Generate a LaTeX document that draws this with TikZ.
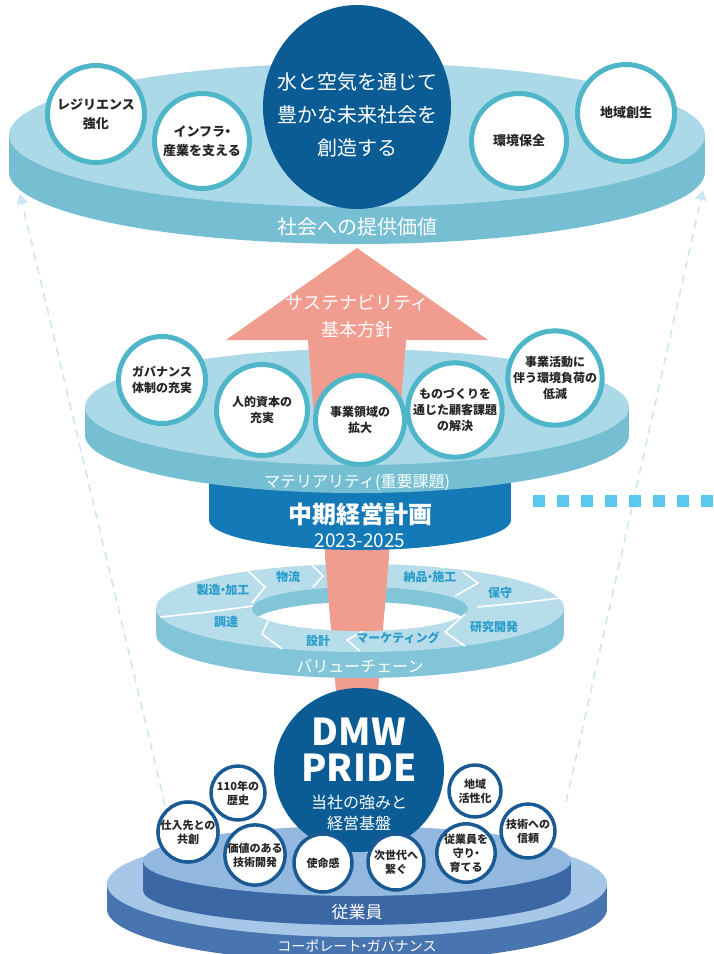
\documentclass[tikz,border=0pt]{standalone}
\usepackage{fontspec}
\setmainfont{Noto Sans CJK JP}
\usepackage{tikz}
\usetikzlibrary{arrows.meta,positioning,shapes.geometric}

\definecolor{skytop}{HTML}{ABD9E7}
\definecolor{skyside}{HTML}{76BFD3}
\definecolor{tealring}{HTML}{4FB6CA}
\definecolor{deepblue}{HTML}{0B5C94}
\definecolor{planblue}{HTML}{1479B7}
\definecolor{salmon}{HTML}{F09C8E}
\definecolor{vctop}{HTML}{B7DDEA}
\definecolor{vcside}{HTML}{82C5D8}
\definecolor{vctext}{HTML}{2C9DCB}
\definecolor{dashblue}{HTML}{CCE6F3}
\definecolor{dotblue}{HTML}{5BC8F0}
\definecolor{navyring}{HTML}{1A5A94}
\definecolor{empltop}{HTML}{92B8DF}
\definecolor{emplside}{HTML}{3B67A4}
\definecolor{govtop}{HTML}{A6C7E7}
\definecolor{govside}{HTML}{4874B0}

\newcommand{\ndot}{\kern-.3em・\kern-.3em}

\tikzset{
  valuecirc/.style={circle,draw=tealring,line width=5pt,fill=white,
                    align=center,text=black!85,inner sep=0pt},
  topfont/.style={font=\bfseries\fontsize{13}{19}\selectfont},
  midfont/.style={font=\bfseries\fontsize{12}{16}\selectfont},
  basecirc/.style={circle,draw=navyring,line width=3.5pt,fill=white,
                   align=center,text=black!85,inner sep=0pt,
                   font=\bfseries\fontsize{11}{14}\selectfont},
  whitetext/.style={text=white,align=center,inner sep=0pt},
  vclabel/.style={text=vctext,inner sep=0pt,
                  font=\bfseries\fontsize{12}{14}\selectfont},
  flowline/.style={dashblue,line width=1.5pt,dash pattern=on 8pt off 6pt,
                   -{Triangle[width=11pt,length=10pt]}},
}

\begin{document}
\begin{tikzpicture}[x=1pt,y=-1pt]
%
  \useasboundingbox (0,0) rectangle (714,954);
  \fill[white] (0,0) rectangle (714,954);
  \clip (0,0) rectangle (714,954);
%
  \coordinate (lfoot) at (165,805);
  \coordinate (ltip)  at (20,194);
  \coordinate (rfoot) at (566,802);
  \coordinate (rtip)  at (703,190);
  \draw [flowline] (lfoot) -- (ltip);
  \draw [flowline] (rfoot) -- (rtip);
%
  % shaft behind everything
  \fill[salmon] (308,340) -- (406,340) -- (377,705) -- (337,705) -- cycle;
%
  % value chain ring
  \fill[vcside] (360,634) ellipse [x radius=204, y radius=44];
  \fill[vcside] (156,608) rectangle (564,634);
  \fill[vctop]  (360,608) ellipse [x radius=204, y radius=44];
  \begin{scope}
    \clip (360,609) ellipse [x radius=108, y radius=22];
    \fill[vcside] (360,609) ellipse [x radius=108, y radius=22];
    \fill[white]  (360,624) ellipse [x radius=108, y radius=22];
  \end{scope}
  \foreach \p/\q/\r in {{160,617}/{208,612}/{253,606},
                        {245,568}/{265,587}/{252,603},
                        {312,565}/{323,576}/{313,587},
                        {463,572}/{478,583}/{455,596},
                        {560,598}/{520,603}/{477,607},
                        {465,614}/{445,632}/{465,646},
                        {365,630}/{347,640}/{360,651},
                        {268,621}/{262,634}/{282,649}}
    \draw [white,line width=1.6pt,line join=round] (\p) -- (\q) -- (\r);
  \node[vclabel] (vcseizo)   at (223,590) {製造\ndot 加工};
  \node[vclabel] (vcbutsu)   at (288,577) {物流};
  \node[vclabel] (vcnohin)   at (430,577) {納品\ndot 施工};
  \node[vclabel] (vchoshu)   at (500,593) {保守};
  \node[vclabel] (vckenkyu)  at (494,627) {研究開発};
  \node[vclabel] (vcmarket)  at (398,638) {マーケティング};
  \node[vclabel] (vcsekkei)  at (318,641) {設計};
  \node[vclabel] (vchotatsu) at (226,622) {調達};
  \node[whitetext,font=\fontsize{16}{18}\selectfont] (vcname) at (360,666)
       {バリューチェーン};
%
  % shaft in front of the far side of the ring
  \begin{scope}
    \clip (300,556) rectangle (420,609);
    \fill[salmon] (308,340) -- (406,340) -- (377,705) -- (337,705) -- cycle;
  \end{scope}
  \begin{scope}
    \clip (360,609) ellipse [x radius=108, y radius=22];
    \fill[salmon] (308,340) -- (406,340) -- (377,705) -- (337,705) -- cycle;
  \end{scope}
%
  % mid-term plan
  \fill[planblue] (360,520) ellipse [x radius=151, y radius=30];
  \fill[planblue] (209,440) rectangle (511,520);
  \node[whitetext,font=\bfseries\fontsize{24}{26}\selectfont] (plan)
       at (360,514) {中期経営計画};
  \node[whitetext,font=\fontsize{19}{21}\selectfont] (planyears)
       at (360,541) {2023-2025};
%
  % materiality disc
  \fill[skyside] (357,435) ellipse [x radius=272, y radius=58];
  \fill[skyside] (85,407) rectangle (629,435);
  \fill[skytop]  (357,407) ellipse [x radius=272, y radius=58];
  \begin{scope}
    \clip (200,240) rectangle (520,430);
    \fill[salmon] (357,248) -- (488,340) -- (406,340) -- (377,705)
                  -- (337,705) -- (308,340) -- (226,340) -- cycle;
  \end{scope}
  \node[whitetext,font=\fontsize{18}{27}\selectfont] (policy) at (357,316)
       {サステナビリティ\\基本方針};
  \node[valuecirc,midfont,minimum size=87pt] (gov)   at (162,380)
       {ガバナンス\\体制の充実};
  \node[valuecirc,midfont,minimum size=91pt] (human) at (262,410)
       {人的資本の\\充実};
  \node[valuecirc,midfont,minimum size=89pt] (biz)   at (360,420)
       {事業領域の\\拡大};
  \node[valuecirc,midfont,minimum size=91pt] (mono)  at (455,410)
       {ものづくりを\\通じた顧客課題\\の解決};
  \node[valuecirc,midfont,minimum size=87pt] (eco)   at (555,378)
       {事業活動に\\伴う環境負荷の\\低減};
  \node[whitetext,font=\fontsize{16}{18}\selectfont] (materiality)
       at (357,482) {マテリアリティ(重要課題)};
%
  \foreach \k in {0,...,7}
    \fill[dotblue] ({533+24*\k},495) rectangle ++(12,12);
%
  % value to society
  \fill[skyside] (357,172) ellipse [x radius=348, y radius=72];
  \fill[skyside] (9,135) rectangle (705,172);
  \fill[skytop]  (357,135) ellipse [x radius=348, y radius=72];
  \node[ellipse,fill=deepblue,minimum width=188pt,minimum height=204pt,
        inner sep=0pt] (vision) at (357,107) {};
  \node[whitetext,font=\fontsize{20}{33}\selectfont] (visiontext)
       at (vision.center) [yshift=-8pt] {水と空気を通じて\\豊かな未来社会を\\創造する};
  \node[valuecirc,topfont,minimum size=97pt] (resil)  at (96,114)
       {レジリエンス\\強化};
  \node[valuecirc,topfont,minimum size=95pt] (infra)  at (202,141)
       {インフラ\ndot\\産業を支える};
  \node[valuecirc,topfont,minimum size=95pt] (envir)  at (519,141)
       {環境保全};
  \node[valuecirc,topfont,minimum size=97pt] (region) at (626,113)
       {地域創生};
  \node[whitetext,font=\fontsize{20}{22}\selectfont] (offer) at (357,227)
       {社会への提供価値};
%
  % foundation tiers
  \fill[govside] (357,909) ellipse [x radius=250, y radius=53];
  \fill[govside] (107,884) rectangle (607,909);
  \fill[govtop]  (357,884) ellipse [x radius=250, y radius=53];
  \node[whitetext,font=\fontsize{14}{16}\selectfont] (governance)
       at (357,946) {コーポレート\ndot ガバナンス};
  \fill[emplside] (357,890) ellipse [x radius=214, y radius=35];
  \fill[emplside] (143,861) rectangle (571,890);
  \fill[empltop]  (357,861) ellipse [x radius=214, y radius=35];
  \node[whitetext,font=\fontsize{17}{19}\selectfont] (staff) at (357,912)
       {従業員};
%
  \node[ellipse,fill=deepblue,minimum width=170pt,minimum height=164pt,
        inner sep=0pt] (pride) at (359,770) {};
  \node[whitetext,font=\bfseries\fontsize{37}{36}\selectfont] (pridename)
       at (359,750) {DMW\\PRIDE};
  \node[whitetext,font=\fontsize{16}{21}\selectfont] (pridesub)
       at (359,813) {当社の強みと\\経営基盤};
  \node[basecirc,minimum size=54pt] (hist)      at (238,793) {110年の\\歴史};
  \node[basecirc,minimum size=52pt] (supp)      at (188,832) {仕入先との\\共創};
  \node[basecirc,minimum size=54pt] (tech)      at (255,855) {価値のある\\技術開発};
  \node[basecirc,minimum size=58pt] (mission)   at (323,863) {使命感};
  \node[basecirc,minimum size=56pt] (nextgen)   at (396,862) {次世代へ\\繋ぐ};
  \node[basecirc,minimum size=54pt] (staffcare) at (466,853) {従業員を\\守り\ndot\\育てる};
  \node[basecirc,minimum size=52pt] (local)     at (475,791) {地域\\活性化};
  \node[basecirc,minimum size=54pt] (trust)     at (528,831) {技術への\\信頼};
\end{tikzpicture}
\end{document}
